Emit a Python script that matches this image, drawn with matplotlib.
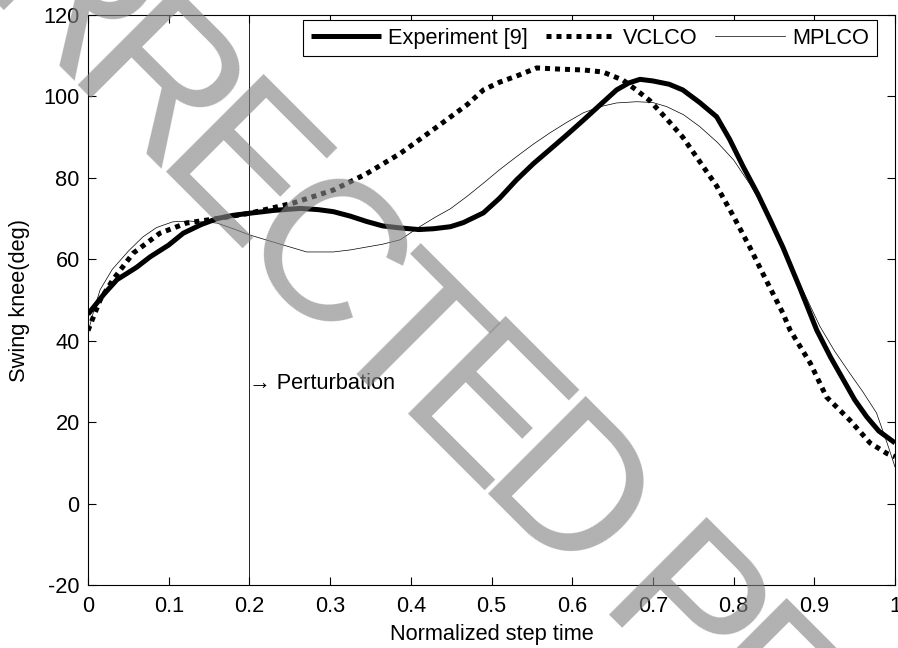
import numpy as np
import matplotlib
matplotlib.use('Agg')
from matplotlib import pyplot as plt
from matplotlib import font_manager, ft2font

font = {'family': ['Liberation Sans', 'DejaVu Sans'],
        'size': 15.7}
matplotlib.rc('font', **font)
matplotlib.rcParams['axes.unicode_minus'] = False

# --- data ---
exp_x = [0, 0.02, 0.036, 0.06, 0.077, 0.1, 0.118, 0.14, 0.16, 0.18, 0.2, 0.23, 0.263, 0.285,
         0.304, 0.325, 0.345, 0.365, 0.387, 0.41, 0.428, 0.449, 0.465, 0.49, 0.51, 0.531, 0.552,
         0.572, 0.593, 0.614, 0.635, 0.655, 0.67, 0.684, 0.70, 0.72, 0.737, 0.758, 0.779, 0.795,
         0.812, 0.83, 0.845, 0.861, 0.882, 0.903, 0.92, 0.936, 0.95, 0.965, 0.98, 1.0]
exp_y = [46.5, 51.5, 55, 58, 60.6, 63.5, 66.4, 68.5, 70, 70.8, 71.3, 72, 72.5, 72.2,
         71.7, 70.6, 69.3, 68.2, 67.7, 67.3, 67.5, 68, 69, 71.4, 75, 79.5, 83.5,
         86.9, 90.5, 94.2, 98, 101.6, 103.3, 104.2, 103.8, 103, 101.6, 98.5, 95, 89.5,
         82.7, 76, 69.8, 63, 53, 42.6, 36, 30.4, 25.5, 21.3, 17.8, 14.9]

vcl_x = [0, 0.015, 0.031, 0.056, 0.089, 0.122, 0.16, 0.2, 0.254, 0.304, 0.345, 0.387, 0.415,
         0.444, 0.47, 0.49, 0.51, 0.531, 0.556, 0.585, 0.614, 0.638, 0.663, 0.68, 0.696, 0.717,
         0.737, 0.758, 0.779, 0.8, 0.82, 0.84, 0.861, 0.87, 0.895, 0.915, 0.944, 0.969, 0.99, 1.0]
vcl_y = [42.5, 50, 55, 61.5, 66.4, 68.9, 70, 71.3, 73.8, 77, 81, 86, 90,
         94.2, 98, 101.6, 103.5, 105, 107, 106.7, 106.5, 106, 104, 101.5, 99, 94.5,
         90, 84, 78, 70.5, 63, 55, 46.8, 42.6, 34.5, 26.2, 20.5, 14.9, 12.3, 11.5]

mpl_x = [0, 0.008, 0.015, 0.03, 0.05, 0.068, 0.085, 0.105, 0.125, 0.139, 0.16, 0.18, 0.2, 0.22,
         0.242, 0.271, 0.304, 0.325, 0.345, 0.365, 0.387, 0.411, 0.43, 0.449, 0.47, 0.49, 0.51,
         0.531, 0.552, 0.572, 0.593, 0.614, 0.635, 0.655, 0.68, 0.7, 0.717, 0.738, 0.758, 0.78,
         0.8, 0.82, 0.841, 0.862, 0.882, 0.907, 0.925, 0.944, 0.96, 0.977, 0.99, 1.0]
mpl_y = [42, 48, 52.5, 57.5, 62, 65.5, 67.8, 69.2, 69.4, 69.2, 68.9, 67.5, 66, 64.8,
         63.5, 61.8, 61.8, 62.3, 63, 63.7, 64.8, 68, 70.3, 72.4, 75.5, 78.7, 82,
         85.2, 88.3, 91, 93.6, 96, 97.5, 98.4, 98.7, 98.5, 97.5, 95.5, 92.6, 88.7,
         84.4, 78.5, 71.3, 62.5, 54, 43.5, 37.5, 32, 27.5, 22.3, 15, 9]

labels = ['Experiment [9]', 'VCLCO', 'MPLCO']
xticks = [0, 0.1, 0.2, 0.3, 0.4, 0.5, 0.6, 0.7, 0.8, 0.9, 1]
xticklabels = ['0', '0.1', '0.2', '0.3', '0.4', '0.5', '0.6', '0.7', '0.8', '0.9', '1']
yticks = [-20, 0, 20, 40, 60, 80, 100, 120]
perturb_x = 0.2
perturb_y = 29.6
watermark = 'CORRECTED PROOF'

W, H = 898, 648
fig = plt.figure(figsize=(W / 100, H / 100), dpi=100)
ax = fig.add_axes([88 / W, 1 - 585 / H, 807 / W, 570 / H])

ax.plot(exp_x, exp_y, 'k-', linewidth=3.6, label=labels[0], solid_capstyle='butt')
ax.plot(vcl_x, vcl_y, color='k', linestyle=(0, (1, 1)), linewidth=3.6,
        dash_capstyle='butt', label=labels[1])
ax.plot(mpl_x, mpl_y, 'k-', linewidth=0.5, label=labels[2])

ax.axvline(perturb_x, color='k', linewidth=0.6)
ax.text(perturb_x, perturb_y, '\u2192 Perturbation', ha='left', va='center')

ax.set_xlim(0, 1)
ax.set_ylim(-20, 120)
ax.set_xticks(xticks)
ax.set_xticklabels(xticklabels)
ax.set_yticks(yticks)
ax.tick_params(direction='in', length=6, width=0.8, top=True, right=True, pad=8)
ax.tick_params(axis='y', pad=6)
for s in ax.spines.values():
    s.set_linewidth(0.8)

ax.set_xlabel('Normalized step time', labelpad=5)
ax.set_ylabel('Swing knee(deg)', labelpad=10)

leg = ax.legend(loc='upper right', bbox_to_anchor=((877 - 88) / 807, 1 - 5 / 570),
                borderaxespad=0, ncol=3, fancybox=False, framealpha=1, edgecolor='k',
                handlelength=3.2, handletextpad=0.35, columnspacing=0.8,
                borderpad=0.35)
leg.get_frame().set_linewidth(0.8)

# watermark: narrow letters laid out along a -45 deg baseline, anchored on the last "E"
wm_size = 144
ft = ft2font.FT2Font(font_manager.findfont('Liberation Sans'))
ft.set_size(150, 100)
adv = [0.82 * ft.load_char(ord(c)).linearHoriAdvance / 65536 for c in watermark]
centers = np.cumsum(adv) - np.array(adv) / 2
ref = centers[7]
ex, ey = 437.5, 460.0
u = np.sqrt(0.5)
for c, d in zip(watermark, centers - ref):
    if c == ' ':
        continue
    px, py = ex + d * u, ey + d * u
    fig.text(px / W, 1 - py / H, c, fontsize=wm_size, family='Liberation Sans',
             color=(0.52, 0.52, 0.52), alpha=0.64, rotation=-45, rotation_mode='anchor',
             ha='center', va='baseline', zorder=10)

fig.savefig('out.png', dpi=100)
